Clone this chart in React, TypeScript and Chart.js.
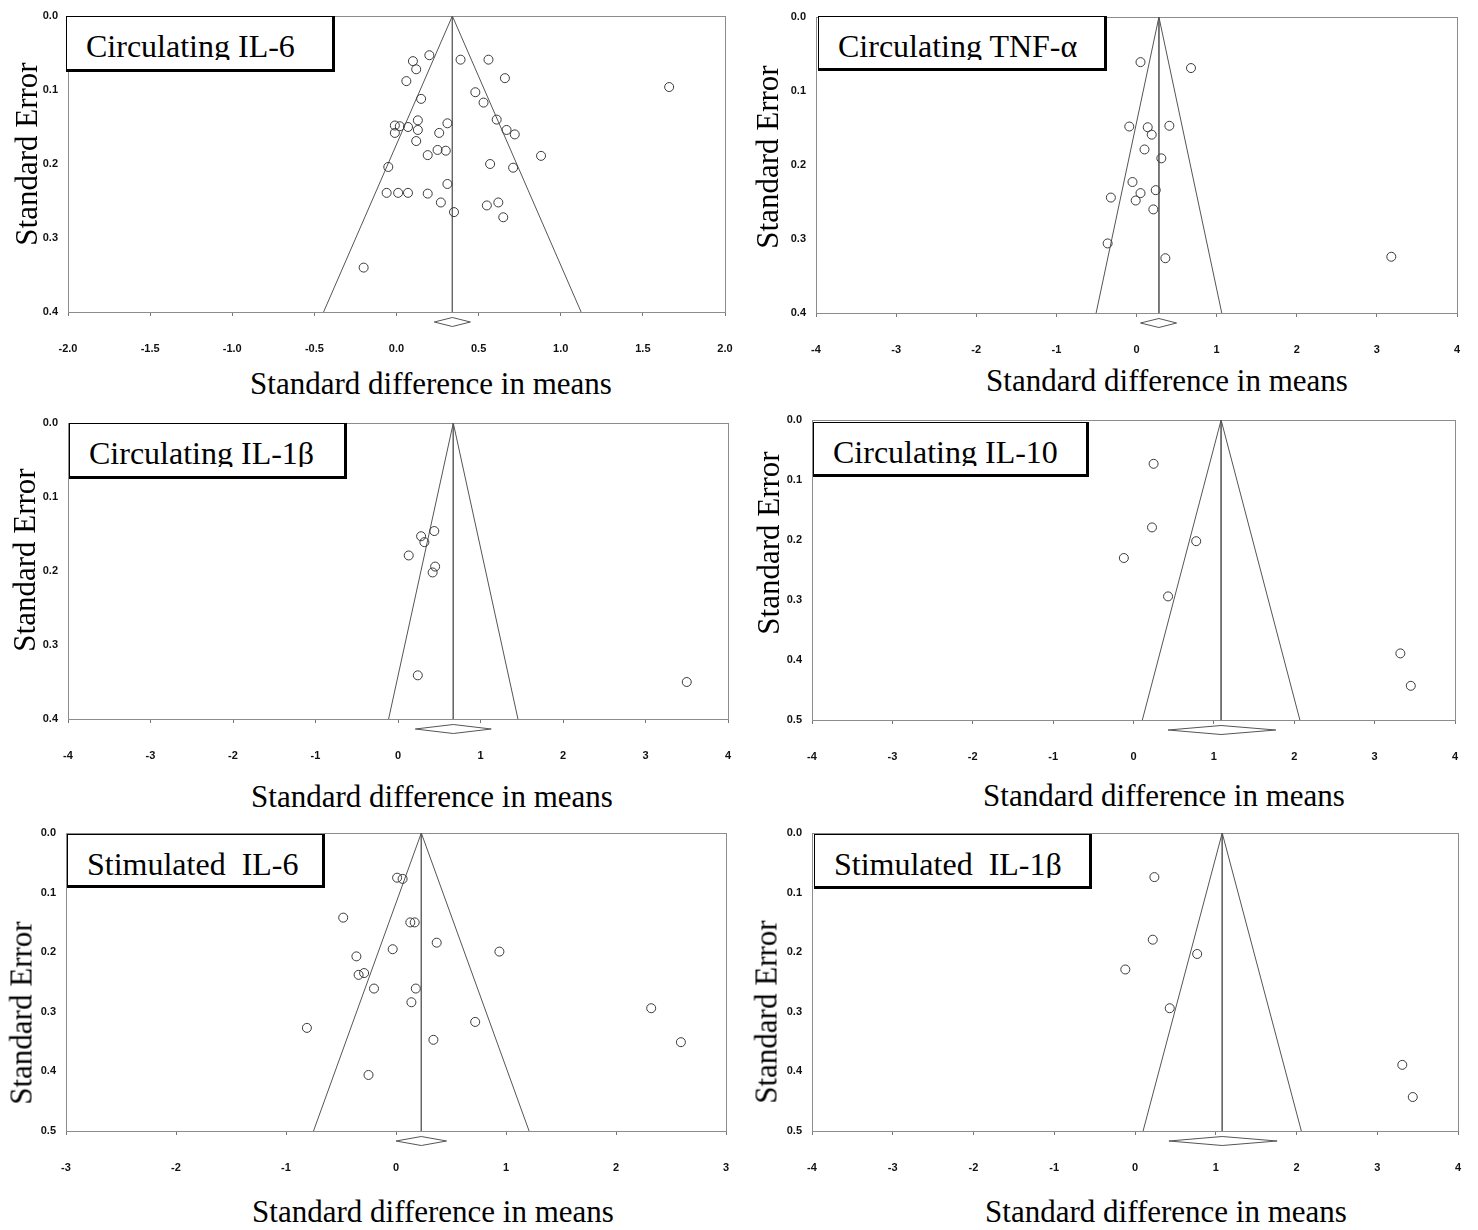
import React, { useEffect, useRef } from "react";
import { Chart, registerables } from "chart.js";

Chart.register(...registerables);

// ---------- DATA ----------
// Panel titles
const panelTitles = [
  "Circulating IL-6",
  "Circulating TNF-\u03b1",
  "Circulating IL-1\u03b2",
  "Circulating IL-10",
  "Stimulated  IL-6",
  "Stimulated  IL-1\u03b2",
];
const xAxisTitle = "Standard difference in means";
const yAxisTitle = "Standard Error";

// Circulating IL-6
const circIL6Smd = [0.20, 0.10, 0.12, 0.39, 0.56, 0.06, 0.66, 1.66, 0.48, 0.53, 0.15, 0.13, 0.61, 0.31, -0.01, 0.02, 0.07, -0.01, 0.13, 0.26, 0.67, 0.72, 0.12, 0.25, 0.30, 0.19, 0.88, 0.57, 0.71, -0.05, 0.31, -0.06, 0.01, 0.07, 0.19, 0.27, 0.55, 0.62, 0.35, 0.65, -0.20];
const circIL6Se = [0.053, 0.061, 0.072, 0.059, 0.059, 0.088, 0.084, 0.096, 0.103, 0.117, 0.112, 0.141, 0.140, 0.145, 0.148, 0.149, 0.150, 0.158, 0.154, 0.158, 0.154, 0.160, 0.169, 0.181, 0.182, 0.188, 0.189, 0.200, 0.205, 0.204, 0.227, 0.239, 0.239, 0.239, 0.240, 0.252, 0.256, 0.252, 0.265, 0.272, 0.340];
const circIL6Summary = [0.23, 0.34, 0.45]; // lower, mean, upper

// Circulating TNF-alpha
const circTNFSmd = [0.05, 0.68, -0.09, 0.14, 0.41, 0.19, 0.10, 0.31, -0.05, 0.24, 0.05, -0.32, -0.01, 0.21, -0.36, 0.36, 3.18];
const circTNFSe = [0.061, 0.069, 0.148, 0.149, 0.147, 0.159, 0.179, 0.191, 0.223, 0.234, 0.238, 0.244, 0.248, 0.260, 0.306, 0.326, 0.324];
const circTNFSummary = [0.05, 0.28, 0.50];

// Circulating IL-1beta
const circIL1bSmd = [0.44, 0.28, 0.32, 0.13, 0.45, 0.42, 0.24, 3.50];
const circIL1bSe = [0.146, 0.153, 0.161, 0.179, 0.194, 0.202, 0.341, 0.350];
const circIL1bSummary = [0.21, 0.67, 1.13];

// Circulating IL-10
const circIL10Smd = [0.25, 0.23, 0.78, -0.12, 0.43, 3.32, 3.45];
const circIL10Se = [0.073, 0.179, 0.202, 0.230, 0.294, 0.389, 0.443];
const circIL10Summary = [0.43, 1.09, 1.77];

// Stimulated IL-6
const stimIL6Smd = [0.01, 0.06, -0.48, 0.13, 0.17, 0.37, -0.03, 0.94, -0.36, -0.29, -0.34, -0.20, 0.18, 0.14, 2.32, -0.81, 0.72, 0.34, 2.59, -0.25];
const stimIL6Se = [0.075, 0.077, 0.142, 0.150, 0.150, 0.184, 0.195, 0.199, 0.207, 0.235, 0.238, 0.261, 0.261, 0.284, 0.294, 0.327, 0.317, 0.347, 0.351, 0.406];
const stimIL6Summary = [0.00, 0.23, 0.46];

// Stimulated IL-1beta
const stimIL1bSmd = [0.24, 0.22, 0.77, -0.12, 0.43, 3.31, 3.44];
const stimIL1bSe = [0.074, 0.179, 0.203, 0.229, 0.294, 0.389, 0.443];
const stimIL1bSummary = [0.42, 1.08, 1.76];

// Axis ranges: [xMin, xMax, xStep, yMax]
const xRanges = [
  [-2, 2, 0.5, 0.4],
  [-4, 4, 1, 0.4],
  [-4, 4, 1, 0.4],
  [-4, 4, 1, 0.5],
  [-3, 3, 1, 0.5],
  [-4, 4, 1, 0.5],
];

const smdSeries = [circIL6Smd, circTNFSmd, circIL1bSmd, circIL10Smd, stimIL6Smd, stimIL1bSmd];
const seSeries = [circIL6Se, circTNFSe, circIL1bSe, circIL10Se, stimIL6Se, stimIL1bSe];
const summaries = [circIL6Summary, circTNFSummary, circIL1bSummary, circIL10Summary, stimIL6Summary, stimIL1bSummary];

// ---------- LAYOUT (pixels) ----------
// plot area: left, right, top, bottom
const plotBoxes = [
  [68, 725, 16, 312],
  [816, 1457, 17, 313],
  [68, 728, 423, 719],
  [812, 1455, 420, 720],
  [66, 726, 833, 1131],
  [812, 1458, 833, 1131],
];
// label boxes: left, top, right, bottom
const labelBoxes = [
  [66, 16, 335, 72],
  [818, 16, 1107, 71],
  [69, 423, 347, 479],
  [813, 422, 1089, 477],
  [67, 834, 325, 888],
  [814, 834, 1092, 889],
];
// x title: center x, baseline y
const xTitlePos = [
  [431, 394],
  [1167, 391],
  [432, 807],
  [1164, 806],
  [433, 1222],
  [1166, 1222],
];
// y title: center x, center y
const yTitlePos = [
  [26, 154],
  [767, 157],
  [24, 560],
  [768, 543],
  [21, 1013],
  [766, 1012],
];

const PAD_L = 60;
const PAD_T = 12;
const PAD_R = 20;
const PAD_B = 45;

const tickFont = { family: "Arial, 'Liberation Sans', sans-serif", size: 11, weight: "bold" as const };
const serif = "'Times New Roman', 'Liberation Serif', Times, serif";

function FunnelChart({ idx }: { idx: number }) {
  const ref = useRef<HTMLCanvasElement | null>(null);
  const [L, R, T, B] = plotBoxes[idx];
  const width = R - L + PAD_L + PAD_R;
  const height = B - T + PAD_T + PAD_B;

  useEffect(() => {
    const [xMin, xMax, xStep, yMax] = xRanges[idx];
    const smd = smdSeries[idx];
    const se = seSeries[idx];
    const [lo, mean, hi] = summaries[idx];
    const decimals = xStep < 1 ? 1 : 0;

    const framePlugin = {
      id: "frameAndDiamond",
      beforeDatasetsDraw(chart: any) {
        const { ctx, chartArea: a } = chart;
        ctx.save();
        ctx.strokeStyle = "#8c8c8c";
        ctx.lineWidth = 1;
        ctx.strokeRect(
          Math.round(a.left) + 0.5,
          Math.round(a.top) + 0.5,
          Math.round(a.right - a.left),
          Math.round(a.bottom - a.top)
        );
        ctx.restore();
      },
      afterDraw(chart: any) {
        const { ctx, chartArea: a } = chart;
        const xs = chart.scales.x;
        const yc = a.bottom + 10;
        const h = 4.5;
        const x0 = xs.getPixelForValue(lo);
        const xm = xs.getPixelForValue(mean);
        const x1 = xs.getPixelForValue(hi);
        ctx.save();
        ctx.beginPath();
        ctx.moveTo(x0, yc);
        ctx.lineTo(xm, yc - h);
        ctx.lineTo(x1, yc);
        ctx.lineTo(xm, yc + h);
        ctx.closePath();
        ctx.fillStyle = "#ffffff";
        ctx.fill();
        ctx.strokeStyle = "#555555";
        ctx.lineWidth = 1;
        ctx.stroke();
        ctx.restore();
      },
    };

    const chart = new Chart(ref.current as HTMLCanvasElement, {
      type: "scatter",
      data: {
        datasets: [
          {
            data: smd.map((x, i) => ({ x, y: se[i] })),
            pointStyle: "circle",
            pointRadius: 4.5,
            borderColor: "#3a3a3a",
            backgroundColor: "rgba(255,255,255,0)",
            borderWidth: 1,
            order: 0,
          },
          {
            data: [
              { x: mean - 1.96 * yMax, y: yMax },
              { x: mean, y: 0 },
              { x: mean + 1.96 * yMax, y: yMax },
            ],
            showLine: true,
            pointRadius: 0,
            borderColor: "#555555",
            borderWidth: 1,
            tension: 0,
            order: 1,
          },
          {
            data: [
              { x: mean, y: 0 },
              { x: mean, y: yMax },
            ],
            showLine: true,
            pointRadius: 0,
            borderColor: "#666666",
            borderWidth: 1,
            order: 2,
          },
        ],
      } as any,
      options: {
        responsive: false,
        animation: false,
        events: [],
        layout: { padding: { top: PAD_T, right: PAD_R, left: 0, bottom: 0 } },
        plugins: { legend: { display: false }, tooltip: { enabled: false } },
        scales: {
          x: {
            type: "linear",
            min: xMin,
            max: xMax,
            afterFit: (s: any) => {
              s.height = PAD_B;
              s.paddingLeft = 0;
              s.paddingRight = 0;
            },
            ticks: {
              stepSize: xStep,
              autoSkip: false,
              maxRotation: 0,
              padding: 26,
              color: "#111111",
              font: tickFont,
              callback: (v: any) => Number(v).toFixed(decimals),
            },
            grid: { display: true, drawOnChartArea: false, drawTicks: true, tickLength: 4, color: "#777777" },
            border: { display: false },
          },
          y: {
            type: "linear",
            reverse: true,
            min: 0,
            max: yMax,
            afterFit: (s: any) => {
              s.width = PAD_L;
              s.paddingTop = 0;
              s.paddingBottom = 0;
            },
            ticks: {
              stepSize: 0.1,
              padding: 10,
              color: "#111111",
              font: tickFont,
              callback: (v: any) => Number(v).toFixed(1),
            },
            grid: { display: false, drawTicks: false },
            border: { display: false },
          },
        },
      } as any,
      plugins: [framePlugin],
    });
    return () => chart.destroy();
  }, [idx]);

  return (
    <canvas
      ref={ref}
      width={width}
      height={height}
      style={{ position: "absolute", left: L - PAD_L, top: T - PAD_T, width, height, display: "block" }}
    />
  );
}

function LabelBox({ idx }: { idx: number }) {
  const [l, t, r, b] = labelBoxes[idx];
  return (
    <div
      style={{
        position: "absolute",
        left: l,
        top: t,
        width: r - l,
        height: b - t,
        boxSizing: "border-box",
        background: "#ffffff",
        borderLeft: "1.5px solid #000",
        borderTop: "1.5px solid #000",
        borderRight: "3px solid #000",
        borderBottom: "3px solid #000",
      }}
    >
      <div
        style={{
          position: "absolute",
          left: 19,
          top: 13,
          height: 30,
          overflow: "hidden",
          fontFamily: serif,
          fontSize: 32,
          lineHeight: "32px",
          whiteSpace: "pre",
          color: "#000",
        }}
      >
        {panelTitles[idx]}
      </div>
    </div>
  );
}

export default function App() {
  const idxs = [0, 1, 2, 3, 4, 5];
  return (
    <div style={{ position: "absolute", left: 0, top: 0, width: 1478, height: 1230, background: "#ffffff", overflow: "hidden" }}>
      {idxs.map((i) => (
        <FunnelChart key={"c" + i} idx={i} />
      ))}
      {idxs.map((i) => (
        <LabelBox key={"l" + i} idx={i} />
      ))}
      {idxs.map((i) => (
        <div
          key={"xt" + i}
          style={{
            position: "absolute",
            left: xTitlePos[i][0],
            top: xTitlePos[i][1] - 26,
            transform: "translateX(-50%)",
            fontFamily: serif,
            fontSize: 31,
            lineHeight: "31px",
            whiteSpace: "nowrap",
            color: "#000",
          }}
        >
          {xAxisTitle}
        </div>
      ))}
      {idxs.map((i) => (
        <div
          key={"yt" + i}
          style={{
            position: "absolute",
            left: yTitlePos[i][0],
            top: yTitlePos[i][1],
            transform: "translate(-50%, -50%) rotate(-90deg)",
            fontFamily: serif,
            fontSize: 31,
            lineHeight: "31px",
            whiteSpace: "nowrap",
            color: "#000",
          }}
        >
          {yAxisTitle}
        </div>
      ))}
    </div>
  );
}
